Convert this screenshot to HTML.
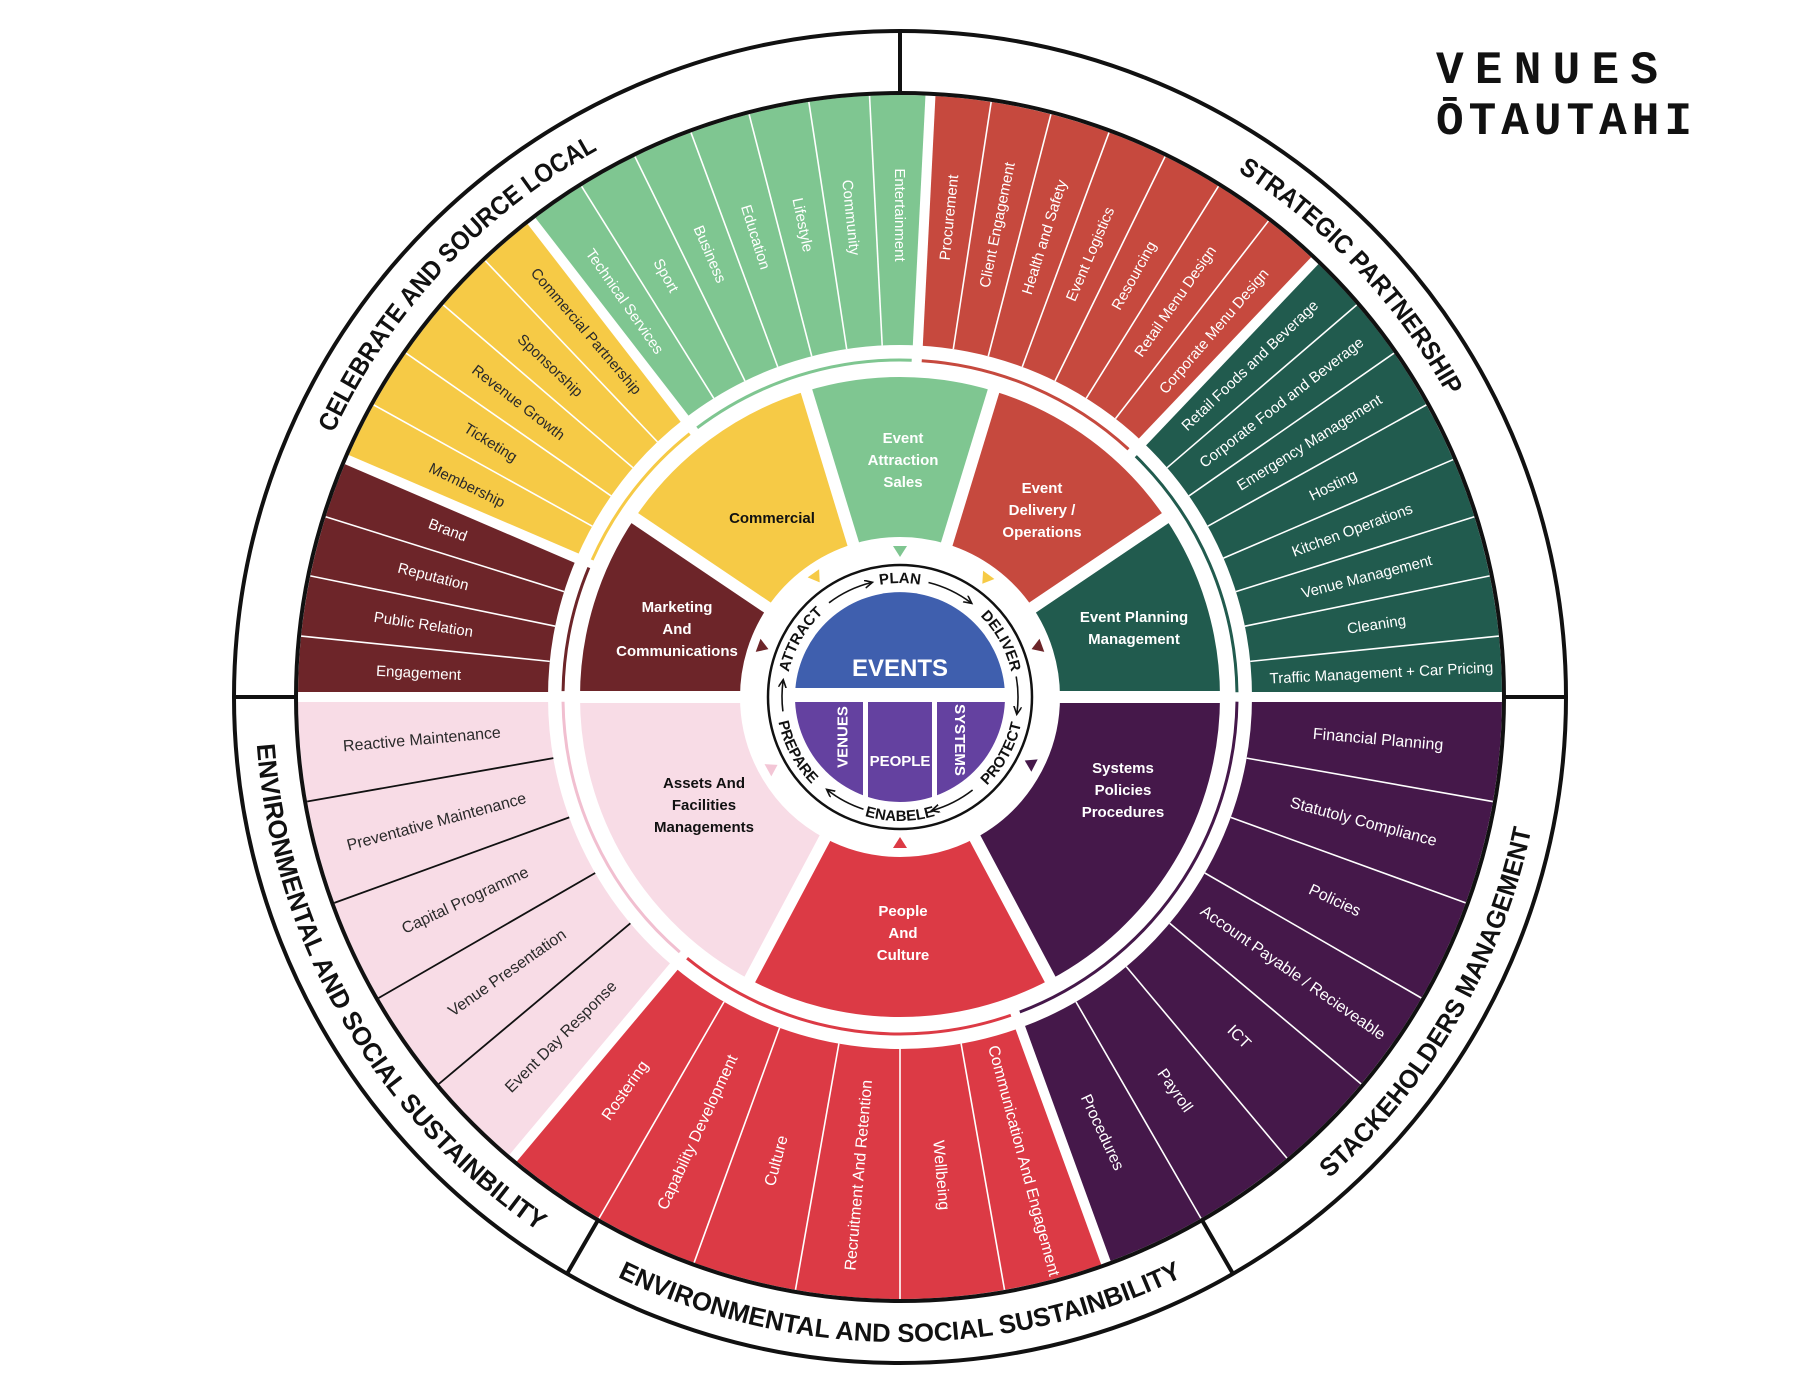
<!DOCTYPE html>
<html><head><meta charset="utf-8"><style>
html,body{margin:0;padding:0;background:#fff;}
svg{display:block;}
.it{font-family:"Liberation Sans",sans-serif;font-size:15px;fill:#fff;text-anchor:middle;}
.lo{font-size:16px;}
.dk{fill:#2a2a2a;}
.ml{font-family:"Liberation Sans",sans-serif;font-weight:bold;font-size:15px;fill:#fff;text-anchor:middle;}
.rl{font-family:"Liberation Sans",sans-serif;font-weight:bold;font-size:26px;fill:#111;}
.cl{font-family:"Liberation Sans",sans-serif;font-weight:bold;font-size:15px;fill:#111;}
</style></head><body>
<svg width="1800" height="1391" viewBox="0 0 1800 1391" xmlns="http://www.w3.org/2000/svg">
<defs>
<marker id="ah" markerWidth="10" markerHeight="10" refX="7" refY="4" orient="auto" markerUnits="userSpaceOnUse">
<path d="M0,0 L8,4 L0,8" fill="none" stroke="#111" stroke-width="1.6"/></marker>
<clipPath id="cc"><circle cx="0" cy="0" r="105"/></clipPath>
<path id="up" d="M -625 0 A 625 625 0 0 1 625 0"/>
<path id="dn" d="M -645 0 A 645 645 0 0 0 645 0"/>
<path id="cup" d="M -114 0 A 114 114 0 0 1 114 0"/>
<path id="cdn" d="M -124 0 A 124 124 0 0 0 124 0"/>
</defs>
<rect width="1800" height="1391" fill="#fff"/>

<text x="1436" y="83" font-family="Liberation Mono,monospace" font-weight="bold" font-size="46" textLength="222" lengthAdjust="spacing" fill="#111">VENUES</text>
<text x="1436" y="134" font-family="Liberation Mono,monospace" font-weight="bold" font-size="46" textLength="256" lengthAdjust="spacing" fill="#111">ŌTAUTAHI</text>

<g transform="translate(900 697)">
<g fill="none" stroke-width="250">
<circle r="477" pathLength="360" stroke="#6D2529" stroke-dasharray="23.23 400" transform="rotate(180)"/>
<circle r="477" pathLength="360" stroke="#F6CA46" stroke-dasharray="29.03 400" transform="rotate(203.23)"/>
<circle r="477" pathLength="360" stroke="#7FC691" stroke-dasharray="40.65 400" transform="rotate(232.26)"/>
<circle r="477" pathLength="360" stroke="#C6493E" stroke-dasharray="40.65 400" transform="rotate(272.9)"/>
<circle r="477" pathLength="360" stroke="#215B4E" stroke-dasharray="46.45 400" transform="rotate(313.55)"/>
<circle r="477" pathLength="360" stroke="#45184A" stroke-dasharray="70 400" transform="rotate(0)"/>
<circle r="477" pathLength="360" stroke="#DC3A45" stroke-dasharray="60 400" transform="rotate(70)"/>
<circle r="477" pathLength="360" stroke="#F8DCE6" stroke-dasharray="50 400" transform="rotate(130)"/>
</g>
<g fill="none" stroke-width="160">
<circle r="240" pathLength="360" stroke="#45184A" stroke-dasharray="62 400" transform="rotate(0)"/>
<circle r="240" pathLength="360" stroke="#DC3A45" stroke-dasharray="56 400" transform="rotate(62)"/>
<circle r="240" pathLength="360" stroke="#F8DCE6" stroke-dasharray="62 400" transform="rotate(118)"/>
<circle r="240" pathLength="360" stroke="#6D2529" stroke-dasharray="34 400" transform="rotate(180)"/>
<circle r="240" pathLength="360" stroke="#F6CA46" stroke-dasharray="39 400" transform="rotate(214)"/>
<circle r="240" pathLength="360" stroke="#7FC691" stroke-dasharray="34 400" transform="rotate(253)"/>
<circle r="240" pathLength="360" stroke="#C6493E" stroke-dasharray="39 400" transform="rotate(287)"/>
<circle r="240" pathLength="360" stroke="#215B4E" stroke-dasharray="34 400" transform="rotate(326)"/>
</g>
<g stroke="#fff" stroke-width="1.6">
<line x1="352" x2="602" transform="rotate(185.81)"/><line x1="352" x2="602" transform="rotate(191.61)"/><line x1="352" x2="602" transform="rotate(197.42)"/>
<line x1="352" x2="602" transform="rotate(209.03)"/><line x1="352" x2="602" transform="rotate(214.84)"/><line x1="352" x2="602" transform="rotate(220.65)"/><line x1="352" x2="602" transform="rotate(226.45)"/>
<line x1="352" x2="602" transform="rotate(238.06)"/><line x1="352" x2="602" transform="rotate(243.87)"/><line x1="352" x2="602" transform="rotate(249.68)"/><line x1="352" x2="602" transform="rotate(255.48)"/><line x1="352" x2="602" transform="rotate(261.29)"/><line x1="352" x2="602" transform="rotate(267.1)"/>
<line x1="352" x2="602" transform="rotate(278.71)"/><line x1="352" x2="602" transform="rotate(284.52)"/><line x1="352" x2="602" transform="rotate(290.32)"/><line x1="352" x2="602" transform="rotate(296.13)"/><line x1="352" x2="602" transform="rotate(301.94)"/><line x1="352" x2="602" transform="rotate(307.74)"/>
<line x1="352" x2="602" transform="rotate(319.35)"/><line x1="352" x2="602" transform="rotate(325.16)"/><line x1="352" x2="602" transform="rotate(330.97)"/><line x1="352" x2="602" transform="rotate(336.77)"/><line x1="352" x2="602" transform="rotate(342.58)"/><line x1="352" x2="602" transform="rotate(348.39)"/><line x1="352" x2="602" transform="rotate(354.19)"/>
<line x1="352" x2="602" transform="rotate(10)"/><line x1="352" x2="602" transform="rotate(20)"/><line x1="352" x2="602" transform="rotate(30)"/><line x1="352" x2="602" transform="rotate(40)"/><line x1="352" x2="602" transform="rotate(50)"/><line x1="352" x2="602" transform="rotate(60)"/>
<line x1="352" x2="602" transform="rotate(80)"/><line x1="352" x2="602" transform="rotate(90)"/><line x1="352" x2="602" transform="rotate(100)"/><line x1="352" x2="602" transform="rotate(110)"/><line x1="352" x2="602" transform="rotate(120)"/>
</g>
<g stroke="#111" stroke-width="1.8">
<line x1="352" x2="602" transform="rotate(140)"/><line x1="352" x2="602" transform="rotate(150)"/><line x1="352" x2="602" transform="rotate(160)"/><line x1="352" x2="602" transform="rotate(170)"/>
</g>
<g stroke="#fff" stroke-width="10">
<line x1="340" x2="603" transform="rotate(180)"/><line x1="340" x2="603" transform="rotate(203.23)"/><line x1="340" x2="603" transform="rotate(232.26)"/><line x1="340" x2="603" transform="rotate(272.9)"/><line x1="340" x2="603" transform="rotate(313.55)"/><line x1="340" x2="603" transform="rotate(0)"/><line x1="340" x2="603" transform="rotate(70)"/><line x1="340" x2="603" transform="rotate(130)"/>
</g>
<g stroke="#fff" stroke-width="12">
<line x1="150" x2="330" transform="rotate(0)"/><line x1="150" x2="330" transform="rotate(62)"/><line x1="150" x2="330" transform="rotate(118)"/><line x1="150" x2="330" transform="rotate(180)"/><line x1="150" x2="330" transform="rotate(214)"/><line x1="150" x2="330" transform="rotate(253)"/><line x1="150" x2="330" transform="rotate(287)"/><line x1="150" x2="330" transform="rotate(326)"/>
</g>
<g fill="none" stroke-width="3">
<circle r="337" pathLength="360" stroke="#6D2529" stroke-dasharray="21.6 400" transform="rotate(181)"/>
<circle r="337" pathLength="360" stroke="#F6CA46" stroke-dasharray="27.4 400" transform="rotate(204)"/>
<circle r="337" pathLength="360" stroke="#7FC691" stroke-dasharray="39 400" transform="rotate(233)"/>
<circle r="337" pathLength="360" stroke="#C6493E" stroke-dasharray="39 400" transform="rotate(273.7)"/>
<circle r="337" pathLength="360" stroke="#215B4E" stroke-dasharray="44.8 400" transform="rotate(314.4)"/>
<circle r="337" pathLength="360" stroke="#45184A" stroke-dasharray="68.4 400" transform="rotate(0.8)"/>
<circle r="337" pathLength="360" stroke="#DC3A45" stroke-dasharray="58.4 400" transform="rotate(70.8)"/>
<circle r="337" pathLength="360" stroke="#F1BFD0" stroke-dasharray="48.4 400" transform="rotate(130.8)"/>
</g>
<path d="M -104.6 -9 A 105 105 0 0 1 104.6 -9 Z" fill="#3F5FAE"/>
<g clip-path="url(#cc)" fill="#6441A0">
<rect x="-105" y="5" width="68" height="110"/><rect x="-32" y="5" width="64" height="110"/><rect x="37" y="5" width="68" height="110"/>
</g>
<text x="0" y="-21" text-anchor="middle" font-family="Liberation Sans,sans-serif" font-weight="bold" font-size="24" fill="#fff">EVENTS</text>
<text transform="translate(-58 40) rotate(-90)" text-anchor="middle" dy=".35em" font-family="Liberation Sans,sans-serif" font-weight="bold" font-size="15" fill="#fff">VENUES</text>
<text transform="translate(60 43) rotate(90)" text-anchor="middle" dy=".35em" font-family="Liberation Sans,sans-serif" font-weight="bold" font-size="15" fill="#fff">SYSTEMS</text>
<text x="0" y="69" text-anchor="middle" font-family="Liberation Sans,sans-serif" font-weight="bold" font-size="15" fill="#fff">PEOPLE</text>
<circle r="132" fill="none" stroke="#111" stroke-width="2.5"/>
<text class="cl"><textPath href="#cup" startOffset="16.7%" text-anchor="middle">ATTRACT</textPath></text>
<text class="cl"><textPath href="#cup" startOffset="50%" text-anchor="middle">PLAN</textPath></text>
<text class="cl"><textPath href="#cup" startOffset="83.9%" text-anchor="middle">DELIVER</textPath></text>
<text class="cl"><textPath href="#cdn" startOffset="83.9%" text-anchor="middle">PROTECT</textPath></text>
<text class="cl"><textPath href="#cdn" startOffset="50%" text-anchor="middle">ENABELE</textPath></text>
<text class="cl"><textPath href="#cdn" startOffset="15.6%" text-anchor="middle">PREPARE</textPath></text>
<g fill="none" stroke="#111" stroke-width="1.6" marker-end="url(#ah)">
<path d="M -71 -94.2 A 118 118 0 0 1 -28.5 -114.5"/>
<path d="M 28.5 -114.5 A 118 118 0 0 1 71 -94.2"/>
<path d="M 116.2 -20.5 A 118 118 0 0 1 116.9 16.4"/>
<path d="M 72.6 93 A 118 118 0 0 1 32.5 113.4"/>
<path d="M -36.5 112.2 A 118 118 0 0 1 -72.6 93"/>
<path d="M -117.1 14.4 A 118 118 0 0 1 -116.9 -16.4"/>
</g>
<polygon points="140,0 151,-7 151,7" fill="#7FC691" transform="rotate(-90)"/>
<polygon points="140,0 151,-7 151,7" fill="#F6CA46" transform="rotate(-125)"/>
<polygon points="140,0 151,-7 151,7" fill="#F6CA46" transform="rotate(-54)"/>
<polygon points="140,0 151,-7 151,7" fill="#6D2529" transform="rotate(-20)"/>
<polygon points="140,0 151,-7 151,7" fill="#45184A" transform="rotate(27)"/>
<polygon points="140,0 151,-7 151,7" fill="#DC3A45" transform="rotate(90)"/>
<polygon points="140,0 151,-7 151,7" fill="#F3C6D6" transform="rotate(151)"/>
<polygon points="140,0 151,-7 151,7" fill="#6D2529" transform="rotate(200)"/>
<circle r="604" fill="none" stroke="#111" stroke-width="4"/>
<circle r="666" fill="none" stroke="#111" stroke-width="4"/>
<g stroke="#111" stroke-width="4">
<line x1="604" x2="666" transform="rotate(-90)"/><line x1="604" x2="666" transform="rotate(0)"/><line x1="604" x2="666" transform="rotate(60)"/><line x1="604" x2="666" transform="rotate(120)"/><line x1="604" x2="666" transform="rotate(180)"/>
</g>
<text class="rl"><textPath href="#up" startOffset="23.9%" text-anchor="middle" textLength="394" lengthAdjust="spacingAndGlyphs">CELEBRATE AND SOURCE LOCAL</textPath></text>
<text class="rl"><textPath href="#up" startOffset="76.1%" text-anchor="middle" textLength="311" lengthAdjust="spacingAndGlyphs">STRATEGIC PARTNERSHIP</textPath></text>
<text class="rl"><textPath href="#dn" startOffset="83.3%" text-anchor="middle" textLength="410" lengthAdjust="spacingAndGlyphs">STACKEHOLDERS MANAGEMENT</textPath></text>
<text class="rl"><textPath href="#dn" startOffset="50%" text-anchor="middle" textLength="585" lengthAdjust="spacingAndGlyphs">ENVIRONMENTAL AND SOCIAL SUSTAINBILITY</textPath></text>
<text class="rl"><textPath href="#dn" startOffset="16.7%" text-anchor="middle" textLength="582" lengthAdjust="spacingAndGlyphs">ENVIRONMENTAL AND SOCIAL SUSTAINBILITY</textPath></text>

<g>
<text class="it" dy=".35em" transform="rotate(182.9) translate(482 0) rotate(180)">Engagement</text>
<text class="it" dy=".35em" transform="rotate(188.7) translate(482 0) rotate(180)">Public Relation</text>
<text class="it" dy=".35em" transform="rotate(194.5) translate(482 0) rotate(180)">Reputation</text>
<text class="it" dy=".35em" transform="rotate(200.3) translate(482 0) rotate(180)">Brand</text>
<text class="it dk" dy=".35em" transform="rotate(206.1) translate(482 0) rotate(180)">Membership</text>
<text class="it dk" dy=".35em" transform="rotate(211.9) translate(482 0) rotate(180)">Ticketing</text>
<text class="it dk" dy=".35em" transform="rotate(217.7) translate(482 0) rotate(180)">Revenue Growth</text>
<text class="it dk" dy=".35em" transform="rotate(223.5) translate(482 0) rotate(180)">Sponsorship</text>
<text class="it dk" dy=".35em" transform="rotate(229.4) translate(482 0) rotate(180)">Commercial Partnership</text>
<text class="it" dy=".35em" transform="rotate(235.2) translate(482 0) rotate(180)">Technical Services</text>
<text class="it" dy=".35em" transform="rotate(241.0) translate(482 0) rotate(180)">Sport</text>
<text class="it" dy=".35em" transform="rotate(246.8) translate(482 0) rotate(180)">Business</text>
<text class="it" dy=".35em" transform="rotate(252.6) translate(482 0) rotate(180)">Education</text>
<text class="it" dy=".35em" transform="rotate(258.4) translate(482 0) rotate(180)">Lifestyle</text>
<text class="it" dy=".35em" transform="rotate(264.2) translate(482 0) rotate(180)">Community</text>
<text class="it" dy=".35em" transform="rotate(270) translate(482 0) rotate(180)">Entertainment</text>
<text class="it" dy=".35em" transform="rotate(275.8) translate(482 0)">Procurement</text>
<text class="it" dy=".35em" transform="rotate(281.6) translate(482 0)">Client Engagement</text>
<text class="it" dy=".35em" transform="rotate(287.4) translate(482 0)">Health and Safety</text>
<text class="it" dy=".35em" transform="rotate(293.2) translate(482 0)">Event Logistics</text>
<text class="it" dy=".35em" transform="rotate(299.0) translate(482 0)">Resourcing</text>
<text class="it" dy=".35em" transform="rotate(304.8) translate(482 0)">Retail Menu Design</text>
<text class="it" dy=".35em" transform="rotate(310.6) translate(482 0)">Corporate Menu Design</text>
<text class="it" dy=".35em" transform="rotate(316.5) translate(482 0)">Retail Foods and Beverage</text>
<text class="it" dy=".35em" transform="rotate(322.3) translate(482 0)">Corporate Food and Beverage</text>
<text class="it" dy=".35em" transform="rotate(328.1) translate(482 0)">Emergency Management</text>
<text class="it" dy=".35em" transform="rotate(333.9) translate(482 0)">Hosting</text>
<text class="it" dy=".35em" transform="rotate(339.7) translate(482 0)">Kitchen Operations</text>
<text class="it" dy=".35em" transform="rotate(345.5) translate(482 0)">Venue Management</text>
<text class="it" dy=".35em" transform="rotate(351.3) translate(482 0)">Cleaning</text>
<text class="it" dy=".35em" transform="rotate(357.1) translate(482 0)">Traffic Management + Car Pricing</text>
<text class="it lo" dy=".35em" transform="rotate(5) translate(480 0)">Financial Planning</text>
<text class="it lo" dy=".35em" transform="rotate(15) translate(480 0)">Statutoly Compliance</text>
<text class="it lo" dy=".35em" transform="rotate(25) translate(480 0)">Policies</text>
<text class="it lo" dy=".35em" transform="rotate(35) translate(480 0)">Account Payable / Recieveable</text>
<text class="it lo" dy=".35em" transform="rotate(45) translate(480 0)">ICT</text>
<text class="it lo" dy=".35em" transform="rotate(55) translate(480 0)">Payroll</text>
<text class="it lo" dy=".35em" transform="rotate(65) translate(480 0)">Procedures</text>
<text class="it lo" dy=".35em" transform="rotate(75) translate(480 0)">Communication And Engagement</text>
<text class="it lo" dy=".35em" transform="rotate(85) translate(480 0)">Wellbeing</text>
<text class="it lo" dy=".35em" transform="rotate(95) translate(480 0) rotate(180)">Recruitment And Retention</text>
<text class="it lo" dy=".35em" transform="rotate(105) translate(480 0) rotate(180)">Culture</text>
<text class="it lo" dy=".35em" transform="rotate(115) translate(480 0) rotate(180)">Capability Development</text>
<text class="it lo" dy=".35em" transform="rotate(125) translate(480 0) rotate(180)">Rostering</text>
<text class="it lo dk" dy=".35em" transform="rotate(135) translate(480 0) rotate(180)">Event Day Response</text>
<text class="it lo dk" dy=".35em" transform="rotate(145) translate(480 0) rotate(180)">Venue Presentation</text>
<text class="it lo dk" dy=".35em" transform="rotate(155) translate(480 0) rotate(180)">Capital Programme</text>
<text class="it lo dk" dy=".35em" transform="rotate(165) translate(480 0) rotate(180)">Preventative Maintenance</text>
<text class="it lo dk" dy=".35em" transform="rotate(175) translate(480 0) rotate(180)">Reactive Maintenance</text>
</g>
</g>

<text class="ml" x="903" y="443"><tspan x="903">Event</tspan><tspan x="903" dy="22">Attraction</tspan><tspan x="903" dy="22">Sales</tspan></text>
<text class="ml" x="1042" y="493"><tspan x="1042">Event</tspan><tspan x="1042" dy="22">Delivery /</tspan><tspan x="1042" dy="22">Operations</tspan></text>
<text class="ml" x="1134" y="622"><tspan x="1134">Event Planning</tspan><tspan x="1134" dy="22">Management</tspan></text>
<text class="ml" x="1123" y="773"><tspan x="1123">Systems</tspan><tspan x="1123" dy="22">Policies</tspan><tspan x="1123" dy="22">Procedures</tspan></text>
<text class="ml" x="903" y="916"><tspan x="903">People</tspan><tspan x="903" dy="22">And</tspan><tspan x="903" dy="22">Culture</tspan></text>
<text class="ml" x="704" y="788" style="fill:#111"><tspan x="704">Assets And</tspan><tspan x="704" dy="22">Facilities</tspan><tspan x="704" dy="22">Managements</tspan></text>
<text class="ml" x="677" y="612"><tspan x="677">Marketing</tspan><tspan x="677" dy="22">And</tspan><tspan x="677" dy="22">Communications</tspan></text>
<text class="ml" x="772" y="523" style="fill:#111">Commercial</text>
</svg>
</body></html>
